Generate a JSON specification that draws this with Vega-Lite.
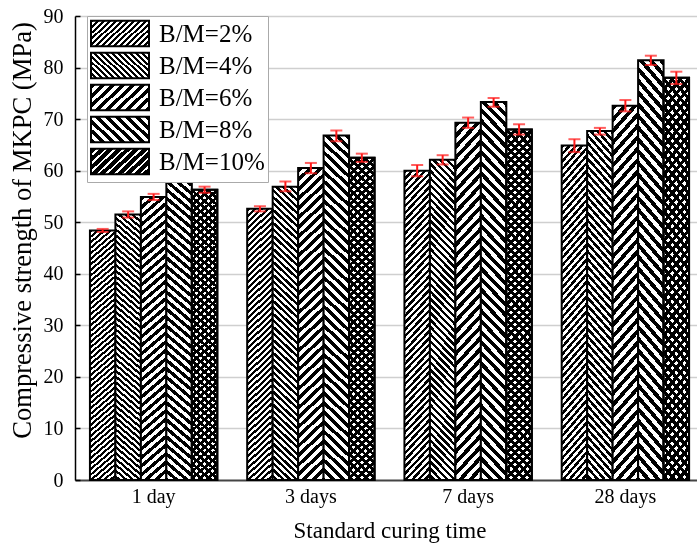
{
"$schema": "https://vega.github.io/schema/vega-lite/v6.json",
"width": 622, "height": 464,
"autosize": {"type": "none"},
"padding": {"left": 75, "top": 16, "right": 0, "bottom": 69},
"background": "white",
"config": {"view": {"stroke": null}, "font": "Liberation Serif"},
"params": [
{"name": "st", "value": [{"offset":0,"color":"#000"},
{"offset":0.01,"color":"#000"},{"offset":0.01,"color":"#fff"},{"offset":0.02,"color":"#fff"},{"offset":0.02,"color":"#000"},{"offset":0.03,"color":"#000"},{"offset":0.03,"color":"#fff"},{"offset":0.04,"color":"#fff"},{"offset":0.04,"color":"#000"},{"offset":0.05,"color":"#000"},{"offset":0.05,"color":"#fff"},
{"offset":0.06,"color":"#fff"},{"offset":0.06,"color":"#000"},{"offset":0.07,"color":"#000"},{"offset":0.07,"color":"#fff"},{"offset":0.08,"color":"#fff"},{"offset":0.08,"color":"#000"},{"offset":0.09,"color":"#000"},{"offset":0.09,"color":"#fff"},{"offset":0.10,"color":"#fff"},{"offset":0.10,"color":"#000"},
{"offset":0.11,"color":"#000"},{"offset":0.11,"color":"#fff"},{"offset":0.12,"color":"#fff"},{"offset":0.12,"color":"#000"},{"offset":0.13,"color":"#000"},{"offset":0.13,"color":"#fff"},{"offset":0.14,"color":"#fff"},{"offset":0.14,"color":"#000"},{"offset":0.15,"color":"#000"},{"offset":0.15,"color":"#fff"},
{"offset":0.16,"color":"#fff"},{"offset":0.16,"color":"#000"},{"offset":0.17,"color":"#000"},{"offset":0.17,"color":"#fff"},{"offset":0.18,"color":"#fff"},{"offset":0.18,"color":"#000"},{"offset":0.19,"color":"#000"},{"offset":0.19,"color":"#fff"},{"offset":0.20,"color":"#fff"},{"offset":0.20,"color":"#000"},
{"offset":0.21,"color":"#000"},{"offset":0.21,"color":"#fff"},{"offset":0.22,"color":"#fff"},{"offset":0.22,"color":"#000"},{"offset":0.23,"color":"#000"},{"offset":0.23,"color":"#fff"},{"offset":0.24,"color":"#fff"},{"offset":0.24,"color":"#000"},{"offset":0.25,"color":"#000"},{"offset":0.25,"color":"#fff"},
{"offset":0.26,"color":"#fff"},{"offset":0.26,"color":"#000"},{"offset":0.27,"color":"#000"},{"offset":0.27,"color":"#fff"},{"offset":0.28,"color":"#fff"},{"offset":0.28,"color":"#000"},{"offset":0.29,"color":"#000"},{"offset":0.29,"color":"#fff"},{"offset":0.30,"color":"#fff"},{"offset":0.30,"color":"#000"},
{"offset":0.31,"color":"#000"},{"offset":0.31,"color":"#fff"},{"offset":0.32,"color":"#fff"},{"offset":0.32,"color":"#000"},{"offset":0.33,"color":"#000"},{"offset":0.33,"color":"#fff"},{"offset":0.34,"color":"#fff"},{"offset":0.34,"color":"#000"},{"offset":0.35,"color":"#000"},{"offset":0.35,"color":"#fff"},
{"offset":0.36,"color":"#fff"},{"offset":0.36,"color":"#000"},{"offset":0.37,"color":"#000"},{"offset":0.37,"color":"#fff"},{"offset":0.38,"color":"#fff"},{"offset":0.38,"color":"#000"},{"offset":0.39,"color":"#000"},{"offset":0.39,"color":"#fff"},{"offset":0.40,"color":"#fff"},{"offset":0.40,"color":"#000"},
{"offset":0.41,"color":"#000"},{"offset":0.41,"color":"#fff"},{"offset":0.42,"color":"#fff"},{"offset":0.42,"color":"#000"},{"offset":0.43,"color":"#000"},{"offset":0.43,"color":"#fff"},{"offset":0.44,"color":"#fff"},{"offset":0.44,"color":"#000"},{"offset":0.45,"color":"#000"},{"offset":0.45,"color":"#fff"},
{"offset":0.46,"color":"#fff"},{"offset":0.46,"color":"#000"},{"offset":0.47,"color":"#000"},{"offset":0.47,"color":"#fff"},{"offset":0.48,"color":"#fff"},{"offset":0.48,"color":"#000"},{"offset":0.49,"color":"#000"},{"offset":0.49,"color":"#fff"},{"offset":0.50,"color":"#fff"},{"offset":0.50,"color":"#000"},
{"offset":0.51,"color":"#000"},{"offset":0.51,"color":"#fff"},{"offset":0.52,"color":"#fff"},{"offset":0.52,"color":"#000"},{"offset":0.53,"color":"#000"},{"offset":0.53,"color":"#fff"},{"offset":0.54,"color":"#fff"},{"offset":0.54,"color":"#000"},{"offset":0.55,"color":"#000"},{"offset":0.55,"color":"#fff"},
{"offset":0.56,"color":"#fff"},{"offset":0.56,"color":"#000"},{"offset":0.57,"color":"#000"},{"offset":0.57,"color":"#fff"},{"offset":0.58,"color":"#fff"},{"offset":0.58,"color":"#000"},{"offset":0.59,"color":"#000"},{"offset":0.59,"color":"#fff"},{"offset":0.60,"color":"#fff"},{"offset":0.60,"color":"#000"},
{"offset":0.61,"color":"#000"},{"offset":0.61,"color":"#fff"},{"offset":0.62,"color":"#fff"},{"offset":0.62,"color":"#000"},{"offset":0.63,"color":"#000"},{"offset":0.63,"color":"#fff"},{"offset":0.64,"color":"#fff"},{"offset":0.64,"color":"#000"},{"offset":0.65,"color":"#000"},{"offset":0.65,"color":"#fff"},
{"offset":0.66,"color":"#fff"},{"offset":0.66,"color":"#000"},{"offset":0.67,"color":"#000"},{"offset":0.67,"color":"#fff"},{"offset":0.68,"color":"#fff"},{"offset":0.68,"color":"#000"},{"offset":0.69,"color":"#000"},{"offset":0.69,"color":"#fff"},{"offset":0.70,"color":"#fff"},{"offset":0.70,"color":"#000"},
{"offset":0.71,"color":"#000"},{"offset":0.71,"color":"#fff"},{"offset":0.72,"color":"#fff"},{"offset":0.72,"color":"#000"},{"offset":0.73,"color":"#000"},{"offset":0.73,"color":"#fff"},{"offset":0.74,"color":"#fff"},{"offset":0.74,"color":"#000"},{"offset":0.75,"color":"#000"},{"offset":0.75,"color":"#fff"},
{"offset":0.76,"color":"#fff"},{"offset":0.76,"color":"#000"},{"offset":0.77,"color":"#000"},{"offset":0.77,"color":"#fff"},{"offset":0.78,"color":"#fff"},{"offset":0.78,"color":"#000"},{"offset":0.79,"color":"#000"},{"offset":0.79,"color":"#fff"},{"offset":0.80,"color":"#fff"},{"offset":0.80,"color":"#000"},
{"offset":0.81,"color":"#000"},{"offset":0.81,"color":"#fff"},{"offset":0.82,"color":"#fff"},{"offset":0.82,"color":"#000"},{"offset":0.83,"color":"#000"},{"offset":0.83,"color":"#fff"},{"offset":0.84,"color":"#fff"},{"offset":0.84,"color":"#000"},{"offset":0.85,"color":"#000"},{"offset":0.85,"color":"#fff"},
{"offset":0.86,"color":"#fff"},{"offset":0.86,"color":"#000"},{"offset":0.87,"color":"#000"},{"offset":0.87,"color":"#fff"},{"offset":0.88,"color":"#fff"},{"offset":0.88,"color":"#000"},{"offset":0.89,"color":"#000"},{"offset":0.89,"color":"#fff"},{"offset":0.90,"color":"#fff"},{"offset":0.90,"color":"#000"},
{"offset":0.91,"color":"#000"},{"offset":0.91,"color":"#fff"},{"offset":0.92,"color":"#fff"},{"offset":0.92,"color":"#000"},{"offset":0.93,"color":"#000"},{"offset":0.93,"color":"#fff"},{"offset":0.94,"color":"#fff"},{"offset":0.94,"color":"#000"},{"offset":0.95,"color":"#000"},{"offset":0.95,"color":"#fff"},
{"offset":0.96,"color":"#fff"},{"offset":0.96,"color":"#000"},{"offset":0.97,"color":"#000"},{"offset":0.97,"color":"#fff"},{"offset":0.98,"color":"#fff"},{"offset":0.98,"color":"#000"},{"offset":0.99,"color":"#000"},{"offset":0.99,"color":"#fff"},{"offset":1,"color":"#fff"}]},
{"name": "sd", "value": [
{"offset":0,"color":"#000"},{"offset":0.07,"color":"#000"},{"offset":0.07,"color":"#fff"},{"offset":0.1,"color":"#fff"},
{"offset":0.1,"color":"#000"},{"offset":0.17,"color":"#000"},{"offset":0.17,"color":"#fff"},{"offset":0.2,"color":"#fff"},
{"offset":0.2,"color":"#000"},{"offset":0.27,"color":"#000"},{"offset":0.27,"color":"#fff"},{"offset":0.3,"color":"#fff"},
{"offset":0.3,"color":"#000"},{"offset":0.37,"color":"#000"},{"offset":0.37,"color":"#fff"},{"offset":0.4,"color":"#fff"},
{"offset":0.4,"color":"#000"},{"offset":0.47,"color":"#000"},{"offset":0.47,"color":"#fff"},{"offset":0.5,"color":"#fff"},
{"offset":0.5,"color":"#000"},{"offset":0.57,"color":"#000"},{"offset":0.57,"color":"#fff"},{"offset":0.6,"color":"#fff"},
{"offset":0.6,"color":"#000"},{"offset":0.67,"color":"#000"},{"offset":0.67,"color":"#fff"},{"offset":0.7,"color":"#fff"},
{"offset":0.7,"color":"#000"},{"offset":0.77,"color":"#000"},{"offset":0.77,"color":"#fff"},{"offset":0.8,"color":"#fff"},
{"offset":0.8,"color":"#000"},{"offset":0.87,"color":"#000"},{"offset":0.87,"color":"#fff"},{"offset":0.9,"color":"#fff"},
{"offset":0.9,"color":"#000"},{"offset":0.97,"color":"#000"},{"offset":0.97,"color":"#fff"},{"offset":1,"color":"#fff"}]},
{"name": "g2", "expr": "({'gradient':'linear','x1':0,'y1':0,'x2':0.0964,'y2':1.1,'stops':st})"},
{"name": "g4", "expr": "({'gradient':'linear','x1':1,'y1':0,'x2':0.9087,'y2':1.1,'stops':st})"},
{"name": "g6", "expr": "({'gradient':'linear','x1':0,'y1':0,'x2':0.1167,'y2':1.515,'stops':st})"},
{"name": "g8", "expr": "({'gradient':'linear','x1':1,'y1':0,'x2':0.9021,'y2':1.39,'stops':st})"},
{"name": "g10", "expr": "({'gradient':'linear','x1':0,'y1':0,'x2':0.0872,'y2':1.17,'stops':st})"},
{"name": "g10b", "expr": "({'gradient':'linear','x1':1,'y1':0,'x2':0.9128,'y2':1.17,'stops':st})"},
{"name": "lg2", "expr": "({'gradient':'linear','x1':0,'y1':0,'x2':4.25,'y2':1.98,'stops':st})"},
{"name": "lg4", "expr": "({'gradient':'linear','x1':1,'y1':0,'x2':-3.25,'y2':1.98,'stops':st})"},
{"name": "lg6", "expr": "({'gradient':'linear','x1':0,'y1':0,'x2':7.09,'y2':3.3,'stops':st})"},
{"name": "lg8", "expr": "({'gradient':'linear','x1':1,'y1':0,'x2':-6.09,'y2':3.3,'stops':st})"},
{"name": "lg10", "expr": "({'gradient':'linear','x1':0,'y1':0,'x2':1.22,'y2':0.568,'stops':sd})"}
],
"data": {"values": [
{"day":"1 day","BM":"B/M=2%","value":48.4,"lo":48.1,"hi":48.7},
{"day":"1 day","BM":"B/M=4%","value":51.5,"lo":50.9,"hi":52.1},
{"day":"1 day","BM":"B/M=6%","value":54.9,"lo":54.3,"hi":55.5},
{"day":"1 day","BM":"B/M=8%","value":59.2,"lo":58.7,"hi":59.7},
{"day":"1 day","BM":"B/M=10%","value":56.3,"lo":55.7,"hi":56.9},
{"day":"3 days","BM":"B/M=2%","value":52.6,"lo":52.1,"hi":53.1},
{"day":"3 days","BM":"B/M=4%","value":56.9,"lo":56.0,"hi":57.9},
{"day":"3 days","BM":"B/M=6%","value":60.5,"lo":59.5,"hi":61.5},
{"day":"3 days","BM":"B/M=8%","value":66.8,"lo":65.7,"hi":67.8},
{"day":"3 days","BM":"B/M=10%","value":62.5,"lo":61.7,"hi":63.3},
{"day":"7 days","BM":"B/M=2%","value":60.0,"lo":58.9,"hi":61.1},
{"day":"7 days","BM":"B/M=4%","value":62.1,"lo":61.2,"hi":63.0},
{"day":"7 days","BM":"B/M=6%","value":69.3,"lo":68.3,"hi":70.3},
{"day":"7 days","BM":"B/M=8%","value":73.3,"lo":72.4,"hi":74.1},
{"day":"7 days","BM":"B/M=10%","value":68.0,"lo":67.0,"hi":69.0},
{"day":"28 days","BM":"B/M=2%","value":64.9,"lo":63.6,"hi":66.1},
{"day":"28 days","BM":"B/M=4%","value":67.7,"lo":67.0,"hi":68.3},
{"day":"28 days","BM":"B/M=6%","value":72.6,"lo":71.5,"hi":73.7},
{"day":"28 days","BM":"B/M=8%","value":81.4,"lo":80.5,"hi":82.3},
{"day":"28 days","BM":"B/M=10%","value":78.0,"lo":76.8,"hi":79.2}
]},
"encoding": {
"x": {"field": "day", "type": "nominal", "sort": ["1 day","3 days","7 days","28 days"],
 "scale": {"range": [0, 629], "paddingInner": 0.19, "paddingOuter": 0.095},
 "axis": {"title": "Standard curing time", "labelAngle": 0, "ticks": false, "domainColor": "#444", "domainWidth": 2, "labelFont": "Liberation Serif", "labelFontSize": 20, "labelColor": "black", "labelPadding": 6, "titleFont": "Liberation Serif", "titleFontSize": 23, "titleFontWeight": "normal", "titleColor": "black", "titlePadding": 13, "grid": false}},
"xOffset": {"field": "BM", "type": "nominal", "scale": {"domain": ["B/M=2%","B/M=4%","B/M=6%","B/M=8%","B/M=10%"], "paddingInner": 0, "paddingOuter": 0}}
},
"layer": [
{"mark": {"type": "bar", "stroke": "black", "strokeWidth": 2},
 "encoding": {
  "y": {"field": "value", "type": "quantitative", "title": "Compressive strength of MKPC (MPa)",
   "scale": {"domain": [0, 90], "nice": false},
   "axis": {"values": [0,5,10,15,20,25,30,35,40,45,50,55,60,65,70,75,80,85,90],
    "labelExpr": "datum.value % 10 == 0 ? datum.label : ''",
    "grid": true, "gridOpacity": {"condition": {"test": "datum.value % 10 == 0 && datum.value > 0", "value": 1}, "value": 0},
    "gridColor": "#cfcfcf", "gridWidth": 1.5,
    "tickSize": -5, "tickColor": "black", "tickWidth": 1.5,
    "domainColor": "black", "domainWidth": 1.5,
    "labelFont": "Liberation Serif", "labelFontSize": 20, "labelColor": "black", "labelPadding": 17,
    "titleFont": "Liberation Serif", "titleFontSize": 26.6, "titleFontWeight": "normal", "titleColor": "black", "titlePadding": 7, "titleY": 214}},
  "fill": {"field": "BM", "type": "nominal",
   "scale": {"domain": ["B/M=2%","B/M=4%","B/M=6%","B/M=8%","B/M=10%"], "range": [{"expr": "lg2"},{"expr": "lg4"},{"expr": "lg6"},{"expr": "lg8"},{"expr": "lg10"}]},
   "condition": [
    {"test": "datum.BM == 'B/M=2%'", "value": {"expr": "g2"}},
    {"test": "datum.BM == 'B/M=4%'", "value": {"expr": "g4"}},
    {"test": "datum.BM == 'B/M=6%'", "value": {"expr": "g6"}},
    {"test": "datum.BM == 'B/M=8%'", "value": {"expr": "g8"}},
    {"test": "datum.BM == 'B/M=10%'", "value": {"expr": "g10"}}],
   "legend": {"orient": "none", "legendX": 12, "legendY": 0, "title": null,
    "symbolType": "M-1,-0.944H3.296V0.944H-1Z", "symbolSize": 729, "symbolStrokeColor": "black", "symbolStrokeWidth": 2,
    "labelFont": "Liberation Serif", "labelFontSize": 25, "labelColor": "black", "labelOffset": 40, "labelLimit": 300,
    "rowPadding": -6, "padding": 3, "strokeColor": "#aaaaaa", "fillColor": "white"}}
 }},
{"transform": [{"filter": "datum.BM == 'B/M=10%'"}],
 "mark": {"type": "bar", "fill": {"expr": "g10b"}, "blend": "multiply", "stroke": "black", "strokeWidth": 2},
 "encoding": {"y": {"field": "value", "type": "quantitative", "title": "Compressive strength of MKPC (MPa)"}}},
{"mark": {"type": "rule", "color": "#ff1a1a", "strokeWidth": 2},
 "encoding": {"y": {"field": "lo", "type": "quantitative", "title": "Compressive strength of MKPC (MPa)"}, "y2": {"field": "hi"}}},
{"mark": {"type": "tick", "color": "#ff1a1a", "thickness": 2, "size": 12},
 "encoding": {"y": {"field": "lo", "type": "quantitative", "title": "Compressive strength of MKPC (MPa)"}}},
{"mark": {"type": "tick", "color": "#ff1a1a", "thickness": 2, "size": 12},
 "encoding": {"y": {"field": "hi", "type": "quantitative", "title": "Compressive strength of MKPC (MPa)"}}}
]
}
